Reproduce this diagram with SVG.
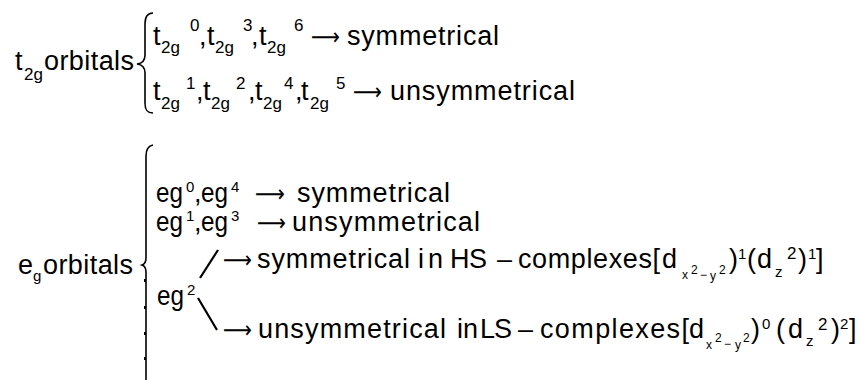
<svg xmlns="http://www.w3.org/2000/svg" width="858" height="380" viewBox="0 0 858 380">
<style>
text{font-family:"Liberation Sans",Arial,sans-serif;fill:#000}
.m{font-size:27px}
text.a{font-family:"DejaVu Sans","Liberation Sans",sans-serif;font-size:24px}
.s{font-size:17px}
.e{font-size:15px}
.t{font-size:12px}
.br{fill:none;stroke:#000;stroke-width:1.6}
.ln{fill:none;stroke:#000;stroke-width:2.2;stroke-linecap:butt}
</style>
<rect width="858" height="380" fill="#fff"/>

<g id="t2g-label">
<text class="m" x="15" y="70">t</text><text class="s" x="24" y="80">2g</text><text class="m" x="44" y="70" textLength="90" lengthAdjust="spacing">orbitals</text>
</g>

<g id="t2g-sym">
<text class="m" x="153" y="45">t</text><text class="s" x="161" y="53">2g</text><text class="s" x="190" y="31">0</text><text class="m" x="199" y="45">,</text>
<text class="m" x="207" y="45">t</text><text class="s" x="215" y="53">2g</text><text class="s" x="243" y="31">3</text><text class="m" x="251" y="45">,</text>
<text class="m" x="259" y="45">t</text><text class="s" x="267" y="53">2g</text><text class="s" x="294" y="31">6</text>
<text class="a" x="311" y="45" textLength="29" lengthAdjust="spacingAndGlyphs">⟶</text>
<text class="m" x="347" y="45" textLength="152" lengthAdjust="spacing">symmetrical</text>
</g>

<g id="t2g-unsym">
<text class="m" x="153" y="100">t</text><text class="s" x="161" y="109">2g</text><text class="s" x="186" y="89">1</text><text class="m" x="196" y="100">,</text>
<text class="m" x="203" y="100">t</text><text class="s" x="211" y="109">2g</text><text class="s" x="236" y="89">2</text><text class="m" x="248" y="100">,</text>
<text class="m" x="255" y="100">t</text><text class="s" x="263" y="109">2g</text><text class="s" x="284" y="89">4</text><text class="m" x="295" y="100">,</text>
<text class="m" x="301" y="100">t</text><text class="s" x="310" y="109">2g</text><text class="s" x="336" y="89">5</text>
<text class="a" x="353" y="100" textLength="29" lengthAdjust="spacingAndGlyphs">⟶</text>
<text class="m" x="390" y="100" textLength="185" lengthAdjust="spacing">unsymmetrical</text>
</g>

<g id="eg-label">
<text class="m" x="18" y="274">e</text><text class="e" x="33" y="281">g</text><text class="m" x="43" y="274" textLength="90" lengthAdjust="spacing">orbitals</text>
</g>

<g id="eg-sym">
<text class="m" x="156" y="202" textLength="27" lengthAdjust="spacingAndGlyphs">eg</text><text class="e" x="186" y="192">0</text><text class="m" x="194" y="202">,</text>
<text class="m" x="201" y="202" textLength="27" lengthAdjust="spacingAndGlyphs">eg</text><text class="e" x="231" y="192">4</text>
<text class="a" x="255" y="202" textLength="30" lengthAdjust="spacingAndGlyphs">⟶</text>
<text class="m" x="297" y="202" textLength="153" lengthAdjust="spacing">symmetrical</text>
</g>

<g id="eg-unsym">
<text class="m" x="156" y="231" textLength="27" lengthAdjust="spacingAndGlyphs">eg</text><text class="e" x="186" y="221">1</text><text class="m" x="194" y="231">,</text>
<text class="m" x="201" y="231" textLength="27" lengthAdjust="spacingAndGlyphs">eg</text><text class="e" x="231" y="221">3</text>
<text class="a" x="257" y="231" textLength="29" lengthAdjust="spacingAndGlyphs">⟶</text>
<text class="m" x="292" y="231" textLength="188" lengthAdjust="spacing">unsymmetrical</text>
</g>

<g id="eg2">
<text class="m" x="157" y="305" textLength="27" lengthAdjust="spacingAndGlyphs">eg</text><text class="e" x="187" y="295">2</text>
</g>

<g id="eg2-hs">
<text class="a" x="223" y="268" textLength="29" lengthAdjust="spacingAndGlyphs">⟶</text>
<text class="m" x="257" y="268" textLength="153" lengthAdjust="spacing">symmetrical</text>
<text class="m" x="418" y="268" textLength="25" lengthAdjust="spacing">in</text>
<text class="m" x="450" y="268" textLength="37" lengthAdjust="spacing">HS</text>
<text class="m" x="497" y="268" textLength="15" lengthAdjust="spacingAndGlyphs">–</text>
<text class="m" x="518" y="268" textLength="142" lengthAdjust="spacing">complexes[</text>
<text class="m" x="662" y="268">d</text>
<text class="t" x="682" y="279">x</text><text class="t" x="691" y="274" font-size="10">2</text><text class="t" x="700" y="279">−</text><text class="t" x="710" y="280">y</text><text class="t" x="719" y="274" font-size="10">2</text>
<text class="m" x="729" y="268">)</text><text class="e" x="738" y="259">1</text>
<text class="m" x="747" y="268">(</text><text class="m" x="757" y="268">d</text><text class="e" x="775" y="277">z</text><text class="s" x="787" y="259">2</text>
<text class="m" x="798" y="268">)</text><text class="e" x="808" y="259">1</text><text class="m" x="816" y="268">]</text>
</g>

<g id="eg2-ls">
<text class="a" x="223" y="338" textLength="29" lengthAdjust="spacingAndGlyphs">⟶</text>
<text class="m" x="258" y="338" textLength="188" lengthAdjust="spacing">unsymmetrical</text>
<text class="m" x="457" y="338" textLength="21" lengthAdjust="spacing">in</text>
<text class="m" x="480" y="338" textLength="32" lengthAdjust="spacing">LS</text>
<text class="m" x="518" y="338" textLength="15" lengthAdjust="spacingAndGlyphs">–</text>
<text class="m" x="540" y="338" textLength="149" lengthAdjust="spacing">complexes[</text>
<text class="m" x="689" y="338">d</text>
<text class="t" x="706" y="349">x</text><text class="t" x="715" y="342" font-size="10">2</text><text class="t" x="724" y="348">−</text><text class="t" x="735" y="349">y</text><text class="t" x="743" y="342" font-size="10">2</text>
<text class="m" x="751" y="338">)</text><text class="e" x="762" y="329">0</text>
<text class="m" x="776" y="338">(</text><text class="m" x="788" y="338">d</text><text class="e" x="806" y="346">z</text><text class="s" x="818" y="330">2</text>
<text class="m" x="831" y="338">)</text><text class="e" x="840" y="329">2</text><text class="m" x="849" y="338">]</text>
</g>

<g id="connectors">
<path class="br" d="M153,13 C147,13 145,17 145,24 L145,55 C145,61 142,63.5 137,64 C142,64.5 145,67 145,73 L145,103 C145,110 147,113 153,113"/>
<path class="br" d="M153,145 C148,146 146,149 146,156 L146,258 C146,262 145,264 142,265 C145,266 146,268 146,272 L146,380"/>
<path d="M144,279h2v3h-2zM144,306h2v3h-2zM144,332h2v3h-2zM144,357h2v3h-2z" fill="#000"/>
<line class="ln" x1="218" y1="250" x2="200" y2="278"/>
<line class="ln" x1="198" y1="298" x2="217" y2="330"/>
</g>
</svg>
